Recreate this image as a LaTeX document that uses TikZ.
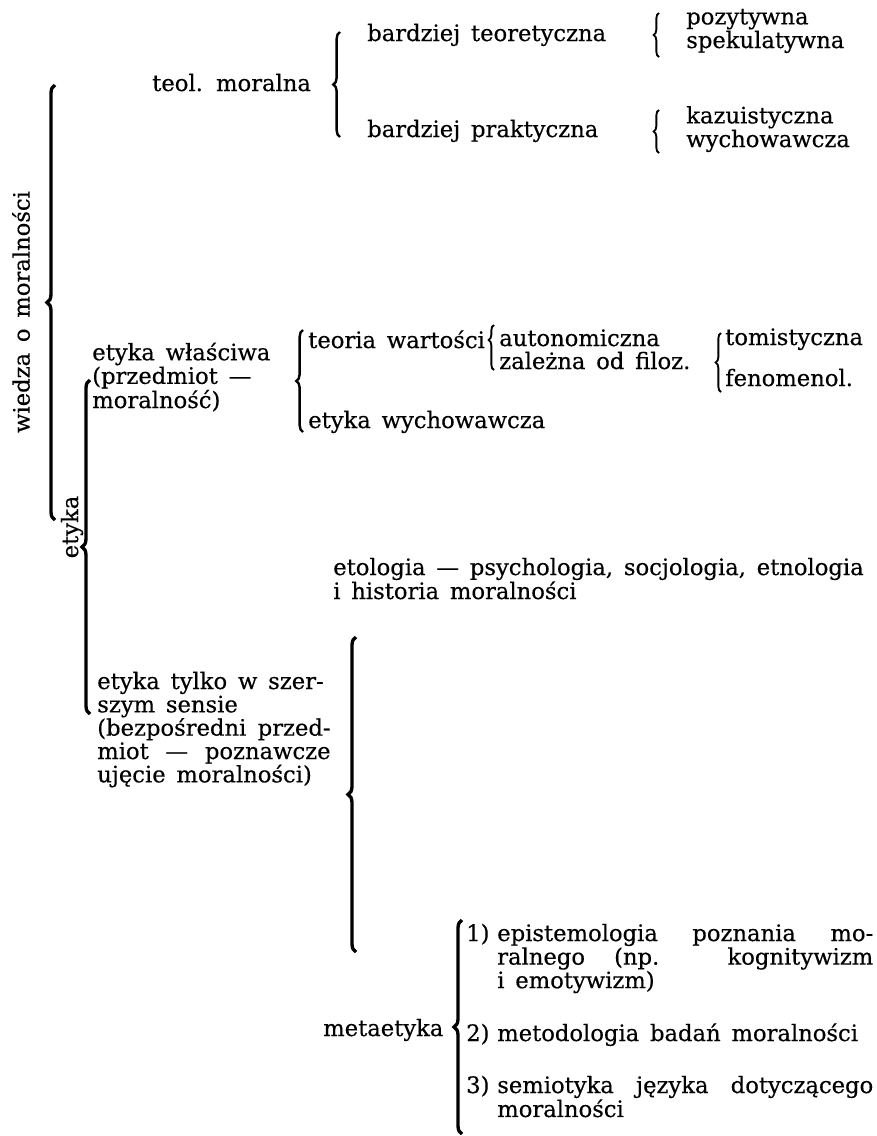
\documentclass[tikz,border=0pt]{standalone}
\usepackage{fontspec}
\setmainfont{DejaVu Serif}[WordSpace=1.5, FakeBold=0.4]
\usetikzlibrary{decorations.pathreplacing}
\tikzset{
        bigbrace/.style = {decorate, decoration={brace, amplitude=6pt, aspect=#1}, line width=2.5pt},
        bigbrace/.default = 0.5,
        midbrace/.style = {decorate, decoration={brace, amplitude=5pt, aspect=#1}, line width=1.8pt},
        midbrace/.default = 0.5,
        smallbrace/.style = {decorate, decoration={brace, amplitude=4pt, aspect=#1}, line width=1.4pt},
        smallbrace/.default = 0.5,
        lbl/.style = {anchor=base west, inner sep=0pt},
        para/.style = {anchor=base west, inner sep=0pt, align=justify, text width=#1},
    }

\begin{document}
\begin{tikzpicture}[x=0.75pt,y=0.75pt,yscale=-1,xscale=1, font=\fontsize{17}{16.2}\selectfont]
\useasboundingbox (0,0) rectangle (877,1136);

%Curly Braces
\draw [bigbrace] (55,520) -- (55,85) ;
\draw [bigbrace] (90,714) -- (90,380) ;
\draw [bigbrace] (356,952) -- (356,637) ;
\draw [bigbrace] (462,1134) -- (462,920) ;
\draw [midbrace] (340,137) -- (340,32) ;
\draw [midbrace] (303,432) -- (303,330) ;
\draw [smallbrace] (659,57) -- (659,13) ;
\draw [smallbrace] (659,153) -- (659,110) ;
\draw [smallbrace=0.667] (494,370) -- (494,325) ;
\draw [smallbrace] (721,392) -- (721,333) ;

% Text Node
\draw (21,312) node [rotate=90, inner sep=0pt] (wiedza) {wiedza o moralności};
% Text Node
\draw (72,527) node [rotate=90, inner sep=0pt] (etyka) {etyka};
% Text Node
\draw (152,91) node [lbl] (teol) {teol. moralna};
% Text Node
\draw (367,41) node [lbl] (teoret) {bardziej teoretyczna};
% Text Node
\draw (367,137) node [lbl] (prakt) {bardziej praktyczna};
% Text Node
\draw (686,48) node [lbl, align=left] (pozyt) {pozytywna\\spekulatywna};
% Text Node
\draw (686,147) node [lbl, align=left] (kazuist) {kazuistyczna\\wychowawcza};
% Text Node
\draw (92,408) node [lbl, align=left] (wlasciwa) {etyka właściwa\\(przedmiot —\\moralność)};
% Text Node
\draw (308,348) node [lbl] (wartosci) {teoria wartości};
% Text Node
\draw (499,346) node [lbl] (autonom) {autonomiczna};
% Text Node
\draw (499,369) node [lbl] (zalezna) {zależna od filoz.};
% Text Node
\draw (725,345) node [lbl] (tomist) {tomistyczna};
% Text Node
\draw (725,386) node [lbl] (fenomen) {fenomenol.};
% Text Node
\draw (308,428) node [lbl] (wychow) {etyka wychowawcza};
% Text Node
\draw (333,599) node [lbl, align=left] (etologia) {etologia — psychologia, socjologia, etnologia\\i historia moralności};
% Text Node
\draw (97,689) node [para=175pt, font=\fontsize{17}{17.5}\selectfont] (szerszy) {etyka tylko w szer-\\szym sensie\\(bezpośredni przed-\linebreak miot — poznawcze\linebreak ujęcie moralności)};
% Text Node
\draw (323,1036) node [lbl] (meta) {metaetyka};
% Text Node
\draw (466,941) node [lbl] (num1) {1)};
\draw (497,941) node [para=282pt] (episte) {epistemologia poznania mo-\linebreak ralnego (np. kognitywizm\linebreak i emotywizm)};
% Text Node
\draw (466,1041) node [lbl] (num2) {2)};
\draw (497,1041) node [para=282pt] (metodo) {metodologia badań moralności};
% Text Node
\draw (466,1093) node [lbl] (num3) {3)};
\draw (497,1093) node [para=282pt] (semio) {semiotyka języka dotyczącego\linebreak moralności};

\end{tikzpicture}
\end{document}
